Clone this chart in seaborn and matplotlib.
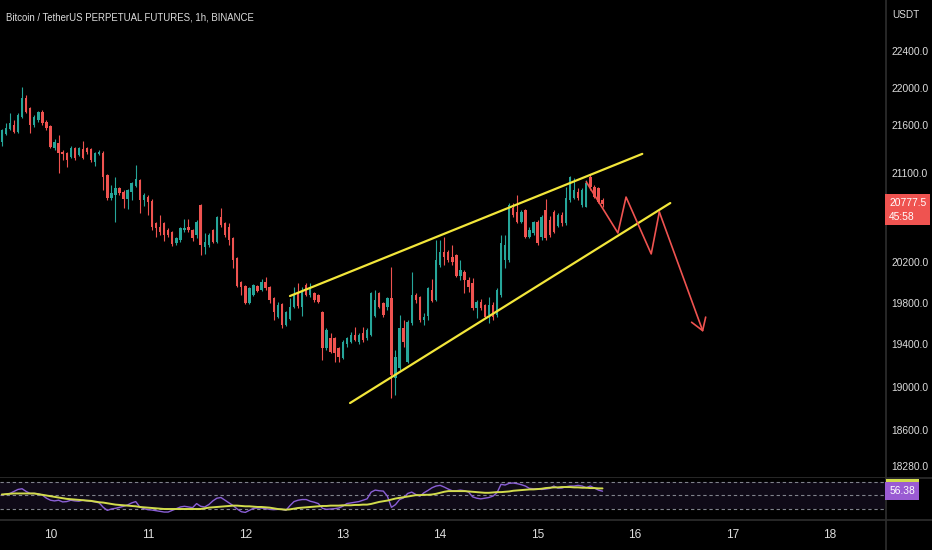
import numpy as np
import pandas as pd
import matplotlib
matplotlib.use("Agg")
import matplotlib.pyplot as plt
import matplotlib.dates as mdates
import matplotlib.ticker as mticker
import matplotlib.transforms as mtransforms
from matplotlib.lines import Line2D
from matplotlib.patches import Rectangle
import seaborn as sns

# ---------------- data (BTCUSDT perp, 1h candles) ----------------
start_time = "2022-07-09 12:00"

open_ = [21425, 21509, 21561, 21603, 21530, 21688, 21889, 21783, 21603, 21656,
         21740, 21635, 21593, 21362, 21414, 21320, 21310, 21268, 21362, 21289,
         21351, 21362, 21351, 21216, 21299, 21310, 21081, 20843, 20874, 20946,
         20905, 20833, 20905, 20967, 21030, 20823, 20853, 20812, 20590, 20549,
         20590, 20519, 20499, 20389, 20419, 20519, 20549, 20519, 20469, 20772,
         20349, 20369, 20519, 20399, 20651, 20590, 20549, 20439, 20240, 20004,
         19964, 19798, 19876, 19964, 19925, 20004, 19954, 19847, 19662, 19788,
         19585, 19643, 19759, 19896, 19759, 19974, 19876, 19896, 19876, 19711,
         19366, 19461, 19461, 19366, 19272, 19404, 19423, 19490, 19423, 19509,
         19461, 19490, 19672, 19896, 19798, 19759, 19847, 19084, 19178, 19556,
         19234, 19604, 19876, 19856, 19633, 19672, 19925, 19827, 20170, 20299,
         20299, 20250, 20270, 20062, 20101, 20023, 19994, 19750, 19808, 19779,
         19682, 19779, 19682, 19876, 20220, 20220, 20742, 20701, 20600, 20722,
         20449, 20489, 20600, 20449, 20722, 20620, 20701, 20559, 20671, 20590,
         20823, 20843, 20905, 20772, 20752, 21061, 20956, 20946, 20823]
high = [21560, 21624, 21730, 21656, 21730, 22009, 21922, 21794, 21709, 21751,
        21762, 21656, 21603, 21456, 21498, 21341, 21320, 21383, 21372, 21372,
        21435, 21372, 21362, 21320, 21341, 21330, 21090, 20977, 21061, 20956,
        20925, 20935, 21009, 21185, 21040, 20894, 20874, 20833, 20600, 20671,
        20600, 20539, 20509, 20449, 20549, 20630, 20630, 20529, 20620, 20782,
        20489, 20489, 20529, 20661, 20742, 20600, 20590, 20449, 20250, 20014,
        19974, 19954, 19984, 19974, 20033, 20052, 19964, 19856, 19808, 19798,
        19721, 19847, 19954, 19994, 19954, 19994, 19994, 19905, 19886, 19721,
        19556, 19509, 19471, 19376, 19442, 19471, 19518, 19566, 19509, 19566,
        19556, 19905, 19925, 19905, 19808, 19856, 20150, 19347, 19682, 19633,
        19633, 20101, 19896, 19866, 19701, 19954, 20033, 20419, 20419, 20449,
        20319, 20369, 20280, 20220, 20121, 20052, 20043, 19827, 19837, 19788,
        19856, 19808, 19944, 20469, 20469, 20792, 20792, 20874, 20722, 20732,
        20549, 20610, 20620, 20671, 20833, 20661, 20722, 20691, 20701, 20956,
        21071, 21050, 20946, 20946, 21030, 21092, 20977, 20956, 20843]
low = [21383, 21498, 21551, 21519, 21519, 21677, 21730, 21519, 21582, 21635,
       21603, 21551, 21362, 21341, 21102, 21236, 21164, 21257, 21236, 21278,
       21247, 21299, 21216, 21174, 21289, 20925, 20823, 20823, 20600, 20874,
       20742, 20732, 20823, 20956, 20691, 20762, 20671, 20519, 20449, 20469,
       20409, 20449, 20359, 20369, 20399, 20499, 20499, 20409, 20439, 20270,
       20280, 20349, 20389, 20389, 20549, 20449, 20369, 20141, 19954, 19876,
       19788, 19788, 19866, 19905, 19915, 19925, 19798, 19633, 19652, 19556,
       19575, 19633, 19750, 19750, 19672, 19866, 19857, 19808, 19798, 19253,
       19347, 19319, 19234, 19234, 19262, 19376, 19414, 19432, 19404, 19423,
       19442, 19480, 19662, 19750, 19662, 19730, 18897, 18925, 19159, 19376,
       19225, 19585, 19798, 19614, 19585, 19633, 19808, 19818, 20150, 20170,
       20200, 20170, 20052, 20023, 19895, 19905, 19730, 19652, 19730, 19652,
       19604, 19633, 19662, 19857, 20141, 20200, 20651, 20590, 20590, 20439,
       20439, 20469, 20369, 20419, 20419, 20449, 20489, 20549, 20559, 20570,
       20802, 20833, 20823, 20752, 20752, 20925, 20843, 20792, 20752]
close = [21551, 21572, 21624, 21530, 21709, 21889, 21740, 21603, 21688, 21740,
         21624, 21572, 21372, 21425, 21310, 21299, 21236, 21362, 21257, 21362,
         21257, 21320, 21236, 21310, 21320, 21061, 20843, 20894, 20946, 20894,
         20833, 20925, 20998, 21040, 20823, 20874, 20802, 20549, 20539, 20499,
         20469, 20469, 20379, 20439, 20539, 20539, 20519, 20439, 20600, 20369,
         20399, 20469, 20399, 20651, 20570, 20469, 20419, 20220, 19964, 19954,
         19798, 19944, 19974, 19915, 20004, 19944, 19827, 19711, 19779, 19585,
         19711, 19759, 19876, 19769, 19905, 19876, 19944, 19827, 19808, 19366,
         19537, 19328, 19319, 19281, 19423, 19461, 19490, 19442, 19490, 19442,
         19537, 19896, 19827, 19759, 19682, 19847, 19112, 19281, 19556, 19423,
         19614, 19876, 19827, 19633, 19662, 19944, 19818, 20220, 20299, 20250,
         20220, 20200, 20062, 20121, 20023, 19954, 19750, 19808, 19750, 19662,
         19779, 19662, 19925, 20389, 20369, 20772, 20671, 20600, 20701, 20449,
         20519, 20600, 20389, 20651, 20439, 20469, 20499, 20671, 20590, 20843,
         21061, 20925, 20843, 20925, 20998, 20956, 20853, 20802, 20777.5]

rsi = [50.5, 52, 53, 56, 59, 60, 56, 53, 53, 52.5,
       50.5, 46, 43, 42, 43, 40.5, 41, 43, 42, 41.5,
       43, 42, 41.5, 40.5, 39, 32.5, 28, 30, 31, 32.5,
       34, 36, 39, 41, 33, 30.5, 29, 28.5, 27.5, 26.5,
       25.5, 25.5, 28, 30.5, 33, 34, 33, 32, 38, 34,
       33, 36.5, 42, 46, 47, 43, 39, 35, 30, 26,
       25, 28, 31, 31.5, 31.5, 30.5, 29.5, 29, 29.5, 29.5,
       28, 35, 41, 43, 44, 44, 41.5, 40, 38, 31,
       29.5, 30, 30.5, 31.5, 34, 38, 39, 40, 41, 43,
       45, 55, 58, 57, 56.5, 49, 32.5, 36.5, 44, 46.5,
       53, 55, 51.5, 49, 54, 57.5, 61.5, 64, 65, 62.5,
       59.5, 57, 57, 58, 57, 55, 48, 46, 45, 46,
       47, 49, 54, 66.5, 65.5, 68, 68.5, 67.5, 66, 64,
       60.5, 60, 60, 59, 59.5, 60.5, 64, 61, 61, 63,
       64, 64, 65, 64, 61.5, 64, 61, 58, 56.38]
rsi_ma = [51.5, 52, 52.5, 53, 53, 53, 53, 53, 53, 52,
          51, 50, 49, 48, 47, 46, 45, 44.5, 44, 43.5,
          43, 42.5, 42, 41, 40, 39.5, 38.5, 37.5, 36.5, 36,
          35.5, 35, 34.5, 34, 33, 32.5, 32, 31.5, 31, 30.5,
          30, 30, 30, 30, 30, 30, 30, 30, 30, 30,
          31, 32, 32.5, 33, 33.5, 34, 34.5, 35, 35, 34.5,
          34, 34, 33.5, 33, 33, 32.5, 32, 31, 30, 29.5,
          29, 29.5, 30.5, 31.5, 32, 32.5, 33, 33.5, 34, 34.5,
          34.5, 35, 35, 35, 35.5, 35.5, 35.5, 36, 36, 36.5,
          36.5, 37.5, 39, 40.5, 41.5, 42.5, 44, 45.5, 46.5, 47.5,
          48.5, 49.5, 50.5, 50.5, 51, 51, 51.5, 52.5, 54, 55.5,
          56.5, 56.5, 56.5, 56.5, 56.5, 56, 55.5, 55, 54.5, 54,
          54, 54.5, 55, 55, 55.5, 56, 57, 57.5, 58, 58.5,
          59, 59, 59.5, 60, 61, 61.5, 62, 62, 62.5, 62.5,
          62.5, 62, 62, 61.5, 61.5, 61, 61, 60.5, 60.5]

# drawn trend lines (rising wedge) and projected path
upper_line_t = ["2022-07-12 11:00", "2022-07-16 01:48"]
upper_line_p = [19866, 21299]
lower_line_t = ["2022-07-13 01:48", "2022-07-16 08:42"]
lower_line_p = [18851, 20792]
path_t = ["2022-07-15 12:00", "2022-07-15 19:48", "2022-07-15 21:48",
          "2022-07-16 04:00", "2022-07-16 06:00", "2022-07-16 16:48"]
path_p = [21009, 20489, 20853, 20280, 20701, 19518]

price_ticks = [18280, 18600, 19000, 19400, 19800, 20200, 21100, 21600, 22000, 22400]
rsi_levels = [70, 50, 30]
title = "Bitcoin / TetherUS PERPETUAL FUTURES, 1h, BINANCE"
countdown = "45:58"

# ---------------- style ----------------
sns.set_theme(style="dark")
plt.rcParams["font.family"] = ["Liberation Sans", "DejaVu Sans"]
BG = "#000000"
TXT = "#dcdcdc"
GREEN = "#26a69a"
RED = "#ef5350"
YEL = "#f2e63a"
PURPLE = "#8a5fd6"
MA_COL = "#d2dc4c"
SEP = "#2e2e2e"
LAB_FS = 7.4

W, H = 932, 550
fig = plt.figure(figsize=(W / 100, H / 100), dpi=100, facecolor=BG)
ax = fig.add_axes([0, 1 - 477 / H, 885 / W, 477 / H])
ax2 = fig.add_axes([0, 1 - 519 / H, 885 / W, (519 - 478) / H])
for a in (ax, ax2):
    a.set_facecolor(BG)
    for s in a.spines.values():
        s.set_visible(False)
    a.grid(False)

times = pd.date_range(start_time, periods=len(close), freq="h")
xs = mdates.date2num(times)
o = np.array(open_, float)
h = np.array(high, float)
l = np.array(low, float)
c = np.array(close, float)
cols = np.where(c >= o, GREEN, RED)

base = pd.Timestamp("2022-07-10 00:00")
x_left = mdates.date2num(base + pd.Timedelta(hours=-12.44))
x_right = mdates.date2num(base + pd.Timedelta(hours=205.6))

# ---------------- price pane ----------------
ax.vlines(xs, l, h, colors=cols, lw=0.8, zorder=2)
ax.bar(xs, np.maximum(np.abs(c - o), 3), bottom=np.minimum(o, c), width=0.6 / 24,
       color=cols, linewidth=0, zorder=3)

sns.lineplot(x=mdates.date2num(pd.to_datetime(upper_line_t)), y=upper_line_p, ax=ax,
             color=YEL, lw=1.6, sort=False, zorder=4)
sns.lineplot(x=mdates.date2num(pd.to_datetime(lower_line_t)), y=lower_line_p, ax=ax,
             color=YEL, lw=1.6, sort=False, zorder=4)
pt = mdates.date2num(pd.to_datetime(path_t))
sns.lineplot(x=pt[:-1], y=path_p[:-1], ax=ax, color=RED, lw=1.2, sort=False, zorder=5)
ax.annotate("", xy=(pt[-1], path_p[-1]), xytext=(pt[-2], path_p[-2]),
            arrowprops=dict(arrowstyle="->,head_length=0.7,head_width=0.45",
                            color=RED, lw=1.2, shrinkA=0, shrinkB=0), zorder=5)

ax.set_yscale("log")
ax.set_ylim(18180, 22967)
ax.set_xlim(x_left, x_right)
ax.yaxis.set_major_locator(mticker.FixedLocator(price_ticks))
ax.yaxis.set_minor_locator(mticker.NullLocator())
ax.yaxis.set_major_formatter(mticker.FuncFormatter(lambda v, p: f"{v:.1f}"))
ax.yaxis.tick_right()
ax.tick_params(axis="y", length=0, pad=4.5, labelsize=LAB_FS, labelcolor=TXT)
ax.tick_params(axis="x", bottom=False, labelbottom=False)
ax.set_xlabel("")
ax.set_ylabel("")

# last price label
tr = mtransforms.offset_copy(mtransforms.blended_transform_factory(ax.transAxes, ax.transData),
                             fig=fig, x=4, y=6.5, units="dots")
ax.text(1.0, c[-1], f"{c[-1]:.1f}\n{countdown}", transform=tr, ha="left", va="top",
        color="white", fontsize=LAB_FS, linespacing=1.45, clip_on=False, zorder=10,
        bbox=dict(boxstyle="square,pad=0.35", fc=RED, ec="none"))

# ---------------- RSI pane ----------------
ax2.axhspan(30, 70, color="#7e57c2", alpha=0.12, lw=0)
for lv in rsi_levels:
    ax2.axhline(lv, color="#80838c", lw=0.8, ls=(0, (3, 2.5)))
sns.lineplot(x=xs, y=rsi, ax=ax2, color=PURPLE, lw=1.0, zorder=3)
sns.lineplot(x=xs, y=rsi_ma, ax=ax2, color=MA_COL, lw=1.4, zorder=4)
ax2.set_ylim(15.2, 75.9)
ax2.set_xlim(x_left, x_right)
ax2.set_yticks([])
ax2.set_ylabel("")
ax2.set_xlabel("")
ax2.xaxis.set_major_locator(mdates.DayLocator())
ax2.xaxis.set_major_formatter(mdates.DateFormatter("%d"))
ax2.tick_params(axis="x", length=0, pad=7.5, labelsize=8.6, labelcolor=TXT)

# MA value marker (mostly hidden behind the RSI value label)
blend2 = mtransforms.blended_transform_factory(ax2.transAxes, ax2.transData)
ax2.add_patch(Rectangle((1.0 + 1 / 885, rsi_ma[-1] - 13.5), 33 / 885, 27.0,
                        transform=blend2, fc=MA_COL, ec="none", clip_on=False, zorder=9))
tr2 = mtransforms.offset_copy(blend2, fig=fig, x=4.5, y=0, units="dots")
ax2.text(1.0, rsi[-1], f"{rsi[-1]:.2f}", transform=tr2, ha="left", va="center",
         color="white", fontsize=LAB_FS, clip_on=False, zorder=10,
         bbox=dict(boxstyle="square,pad=0.4", fc="#9a5bd3", ec="none"))

# ---------------- frame lines and header ----------------
for yy in (477.5, 519.5):
    fig.add_artist(Line2D([0, 1], [1 - yy / H] * 2, color=SEP, lw=1.2,
                          transform=fig.transFigure, zorder=0))
fig.add_artist(Line2D([885.5 / W] * 2, [0, 1], color=SEP, lw=1.2,
                      transform=fig.transFigure, zorder=0))

fig.text(6 / W, 1 - 18 / H, title, color=TXT, fontsize=6.9, ha="left", va="center")
fig.text(892 / W, 1 - 15 / H, "USDT", color=TXT, fontsize=7.2, ha="left", va="center")

fig.savefig("out.png", dpi=100, facecolor=BG)
